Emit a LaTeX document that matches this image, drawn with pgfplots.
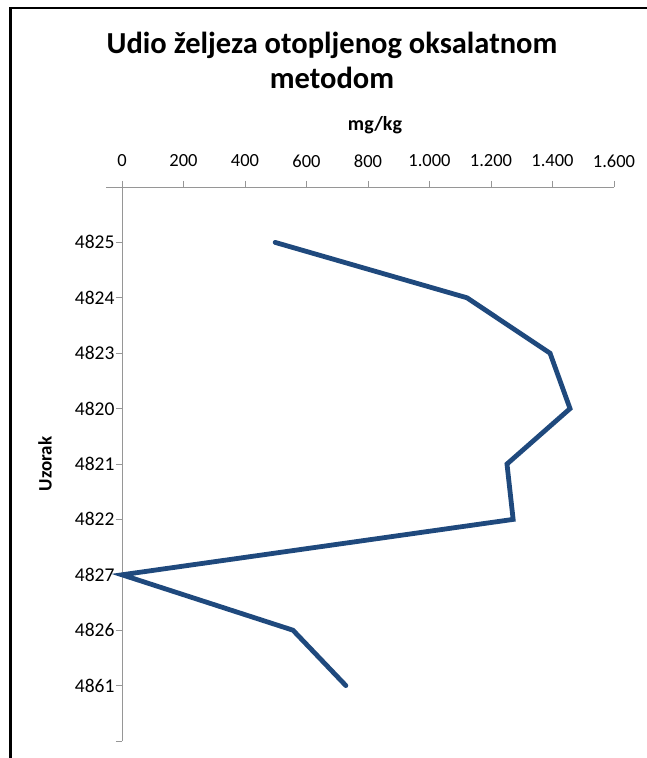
\documentclass[border=0pt]{standalone}
\usepackage{pgfplots}
\pgfplotsset{compat=1.18}
\usepackage{fontspec}
\setmainfont{Carlito}
\definecolor{lineblue}{RGB}{31,73,125}
\definecolor{axgray}{RGB}{150,150,150}
\begin{document}
\begin{tikzpicture}[x=1pt,y=1pt]
\useasboundingbox (0,0) rectangle (647,758);
\draw[black,line width=2.8pt] (10.5,0) -- (10.5,750) -- (647,750);
\node[font=\bfseries\fontsize{30.5}{34}\selectfont] at (332,713) {Udio željeza otopljenog oksalatnom};
\node[font=\bfseries\fontsize{30.5}{34}\selectfont] at (332,680) {metodom};
\begin{axis}[
  at={(122pt,17pt)}, anchor=south west,
  scale only axis, width=492pt, height=554pt,
  xmin=0, xmax=1600, ymin=0, ymax=10,
  axis x line*=top, axis y line*=left,
  axis line style={axgray, line width=0.8pt},
  xtick={0,200,...,1600},
  xticklabels={0,200,400,600,800,{1.000},{1.200},{1.400},{1.600}},
  ytick={0,1,...,9},
  yticklabels={{},4861,4826,4827,4822,4821,4820,4823,4824,4825},
  tick style={axgray, line width=0.8pt},
  tick align=outside,
  major tick length=6pt,
  x tick label style={font=\fontsize{18.5}{21}\selectfont, anchor=center, yshift=20pt},
  y tick label style={font=\fontsize{19.5}{22}\selectfont, xshift=2pt},
  xlabel={mg/kg},
  xlabel style={font=\bfseries\fontsize{20}{24}\selectfont, at={(axis description cs:0.5,1)}, anchor=center, yshift=62pt, xshift=7pt},
  ylabel={Uzorak},
  ylabel style={font=\bfseries\fontsize{19}{23}\selectfont, at={(axis description cs:0,0.5)}, anchor=center, yshift=77pt},
  clip=false,
]
\draw[axgray, line width=0.8pt] ([xshift=-16pt]rel axis cs:0,1) -- (rel axis cs:0,1);
\addplot[lineblue, line width=4.8pt, line join=miter, line cap=round] coordinates {
  (498,9) (1122,8) (1392,7) (1457,6) (1252,5) (1272,4) (0,3) (556,2) (728,1)
};
\end{axis}
\end{tikzpicture}
\end{document}
